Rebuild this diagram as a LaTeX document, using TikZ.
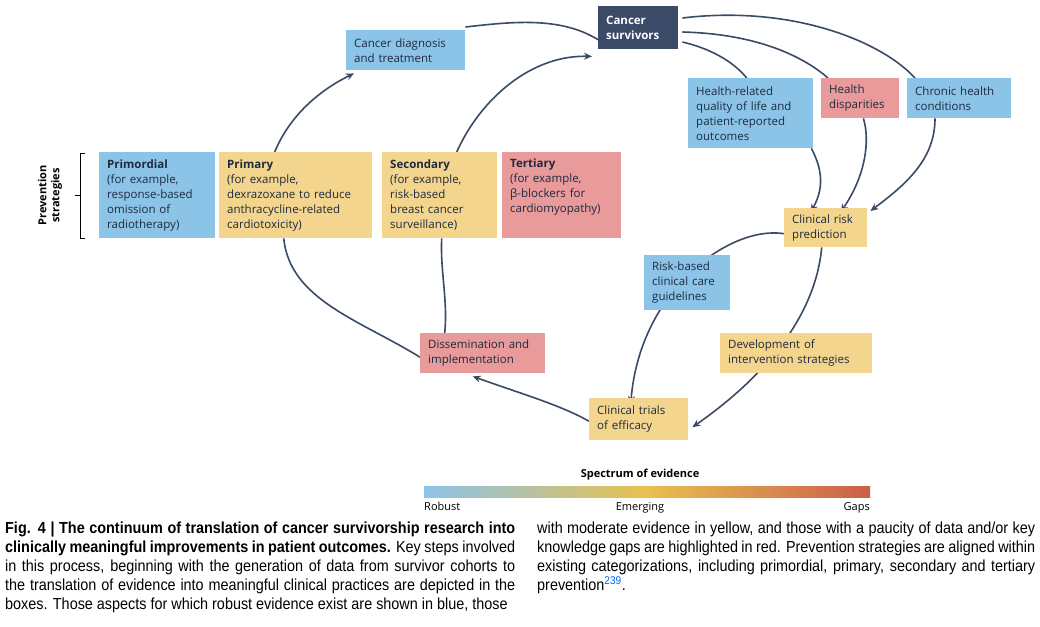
\documentclass[tikz,border=0pt]{standalone}
\usepackage{fontspec}
\setmainfont{Open Sans}
\newfontfamily\capfont{Liberation Sans}[FakeStretch=0.9]
\usetikzlibrary{backgrounds,arrows.meta}
\definecolor{cblue}{HTML}{8CC4E8}
\definecolor{cyel}{HTML}{F4D58D}
\definecolor{cred}{HTML}{E99A9A}
\definecolor{cnavy}{HTML}{3A4A67}
\definecolor{ctext}{HTML}{1E2A40}
\begin{document}
\begin{tikzpicture}[x=1pt,y=-1pt,
  box/.style={anchor=north west,inner xsep=8pt,inner ysep=4pt,align=left,
     font=\fontsize{11.5}{15}\selectfont,text=ctext},
  conn/.style={draw=cnavy,line width=1.6pt},
  arr/.style={conn,-{Stealth[length=8pt,width=7pt]}}]
\useasboundingbox (0,0) rectangle (1040,626);
\newcommand{\bx}[7]{% name, x1,y1,x2,y2,color,text
  \node[box,fill=#6,minimum width=#4-#2,minimum height=#5-#3,text width=#4-#2-16] (#1) at (#2,#3) {#7};}
\bx{diag}{346}{30}{465}{70}{cblue}{Cancer diagnosis\\and treatment}
\node[box,fill=cnavy,text=white,minimum width=80,minimum height=43,text width=64,font=\fontsize{11.5}{15}\selectfont\bfseries] (surv) at (598,6) {Cancer\\survivors};
\bx{hrq}{688}{78}{813}{148}{cblue}{Health-related\\quality of life and\\patient-reported\\outcomes}
\bx{disp}{821}{78}{899}{118}{cred}{Health\\disparities}
\bx{chron}{907}{78}{1011}{118}{cblue}{Chronic health\\conditions}
\bx{prim0}{99}{152}{215}{238}{cblue}{\textbf{Primordial}\\(for example,\\response-based\\omission of\\radiotherapy)}
\bx{prim}{219}{152}{372}{238}{cyel}{\textbf{Primary}\\(for example,\\dexrazoxane to reduce\\anthracycline-related\\cardiotoxicity)}
\bx{sec}{382}{152}{497}{238}{cyel}{\textbf{Secondary}\\(for example,\\risk-based\\breast cancer\\surveillance)}
\bx{ter}{502}{152}{621}{238}{cred}{\textbf{Tertiary}\\(for example,\\β-blockers for\\cardiomyopathy)\\\strut}
\bx{risk}{784}{208}{867}{247}{cyel}{Clinical risk\\prediction}
\bx{guide}{644}{255}{730}{310}{cblue}{Risk-based\\clinical care\\guidelines}
\bx{dev}{720}{333}{872}{373}{cyel}{Development of\\intervention strategies}
\bx{diss}{420}{333}{545}{373}{cred}{Dissemination and\\implementation}
\bx{trial}{589}{398}{688}{440}{cyel}{Clinical trials\\of efficacy}
\begin{scope}[on background layer]
\fill[white] (0,0) rectangle (1040,626);
\draw[arr] ([xshift=-21pt]prim.north) .. controls (290,115) and (320,90) .. ([xshift=8pt,yshift=-3pt]diag.south west);
\draw[conn] ([yshift=3pt]diag.north east) .. controls (510,22) and (560,16) .. ([yshift=-12pt]surv.west);
\draw[arr] ([xshift=17pt]sec.north) .. controls (480,100) and (530,55) .. ([xshift=-6pt,yshift=-7pt]surv.south west);
\draw[conn] ([xshift=4pt,yshift=-12pt]surv.north east) .. controls (790,5) and (880,40) .. ([xshift=8pt]chron.north west);
\draw[conn] ([xshift=4pt,yshift=-26pt]surv.north east) .. controls (760,34) and (805,58) .. ([xshift=7pt]disp.north west);
\draw[conn] ([xshift=4pt,yshift=-36pt]surv.north east) .. controls (708,48) and (732,60) .. ([xshift=-4pt]hrq.north);
\draw[arr] ([xshift=-2pt]hrq.south east) .. controls (820,165) and (826,185) .. ([xshift=-15pt,yshift=-4pt]risk.north);
\draw[arr] ([xshift=-36pt]disp.south east) .. controls (870,140) and (866,175) .. ([xshift=15pt,yshift=-4pt]risk.north);
\draw[arr] ([xshift=28pt]chron.south west) .. controls (935,160) and (905,185) .. ([xshift=3pt,yshift=-3pt]risk.north east);
\draw[arr] ([yshift=-6pt]risk.west) .. controls (730,225) and (640,290) .. ([xshift=-8pt,yshift=-6pt]trial.north);
\draw[arr] ([xshift=-4pt]risk.south) .. controls (815,320) and (760,380) .. ([xshift=4pt,yshift=-8pt]trial.east);
\draw[arr] ([yshift=-2pt]trial.west) .. controls (560,405) and (525,395) .. ([xshift=-10pt,yshift=-3pt]diss.south);
\draw[conn] ([yshift=-4pt]diss.west) .. controls (360,320) and (290,300) .. ([xshift=-12pt]prim.south);
\draw[conn] ([xshift=-38pt]diss.north) .. controls (448,300) and (440,270) .. ([xshift=2pt]sec.south);
\end{scope}
% prevention strategies
\coordinate (b1) at (80,153); \coordinate (b2) at (80,238);
\draw[line width=0.9pt] ([xshift=5]b1) -- (b1) -- (b2) -- ([xshift=5]b2);
\draw[line width=0.9pt] (75,195.5) -- (80,195.5);
\node[rotate=90,align=center,font=\fontsize{11}{13}\selectfont\bfseries] (prev) at (50,195.5) {Prevention\\strategies};
% spectrum
\node[font=\fontsize{11}{13}\selectfont\bfseries] (spt) at (640,475) {Spectrum of evidence};
\shade[left color=cblue,right color={rgb,255:red,204;green,94;blue,74},middle color={rgb,255:red,232;green,192;blue,80}] (424,486) rectangle (870,497);
\node[anchor=north west,inner sep=0,font=\fontsize{11}{13}\selectfont] (rob) at (424,502) {Robust};
\node[anchor=north,inner sep=0,font=\fontsize{11}{13}\selectfont] (eme) at (640,502) {Emerging};
\node[anchor=north east,inner sep=0,font=\fontsize{11}{13}\selectfont] (gap) at (870,502) {Gaps};
% caption
\node[anchor=north west,inner sep=0,text width=510,align=justify,font=\capfont\fontsize{16}{19}\selectfont] (cap1) at (5,522) {\textbf{Fig. 4 | The continuum of translation of cancer survivorship research into}\linebreak\textbf{clinically meaningful improvements in patient outcomes.} Key steps involved\linebreak in this process, beginning with the generation of data from survivor cohorts to\linebreak the translation of evidence into meaningful clinical practices are depicted in the\linebreak boxes. Those aspects for which robust evidence exist are shown in blue, those};
\node[anchor=north west,inner sep=0,text width=498,align=justify,font=\capfont\fontsize{16}{19}\selectfont] (cap2) at (537,522) {with moderate evidence in yellow, and those with a paucity of data and/or key\linebreak knowledge gaps are highlighted in red. Prevention strategies are aligned within\linebreak existing categorizations, including primordial, primary, secondary and tertiary\linebreak prevention\textsuperscript{\textcolor{blue!60!cyan}{239}}.};
\end{tikzpicture}
\end{document}
